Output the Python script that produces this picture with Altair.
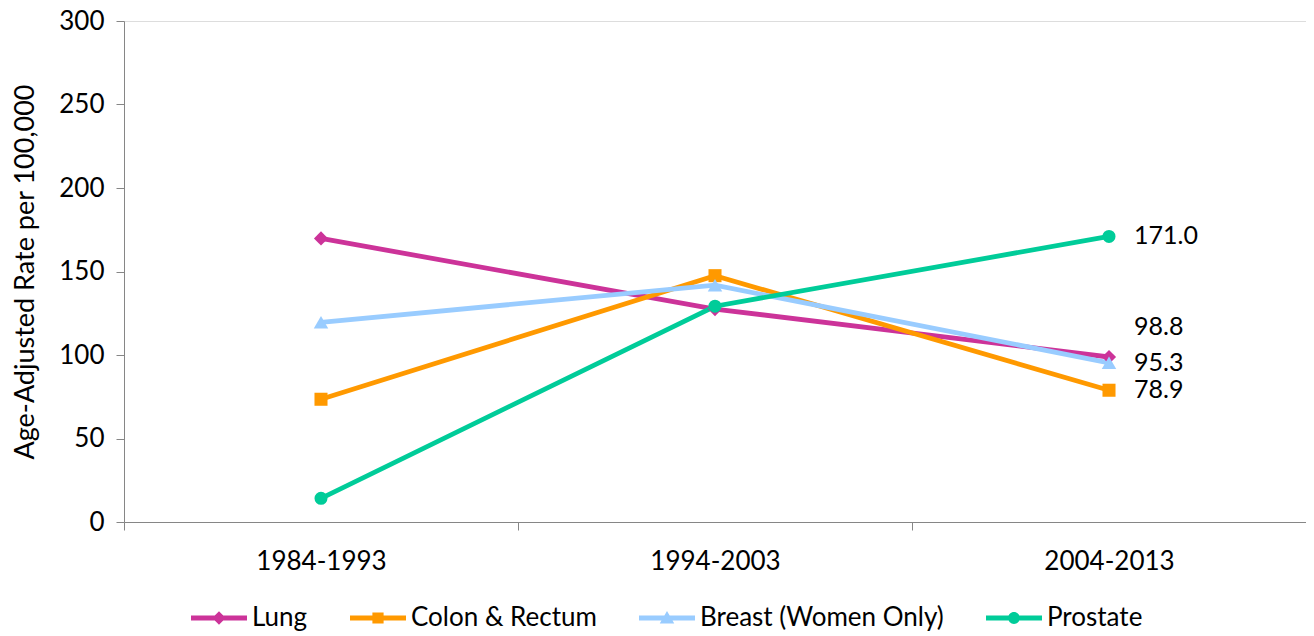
import altair as alt
import pandas as pd

periods = ["1984-1993", "1994-2003", "2004-2013"]
series = ["Lung", "Colon & Rectum", "Breast (Women Only)", "Prostate"]
lung = [169.8, 127.5, 98.8]
colon = [73.5, 147.5, 78.9]
breast = [119.6, 141.8, 95.3]
prostate = [14.2, 129.2, 171.0]
y_ticks = [0, 50, 100, 150, 200, 250, 300]

colors = ["#CC3399", "#FF9900", "#99CCFF", "#00CC99"]
marker_shapes = ["diamond", "square", "triangle-up", "circle"]
marker_sizes = [200, 170, 210, 170]

values = {"Lung": lung, "Colon & Rectum": colon,
          "Breast (Women Only)": breast, "Prostate": prostate}
rows = []
for s in series:
    for p, v in zip(periods, values[s]):
        rows.append({"Period": p, "Series": s, "Rate": v})
df = pd.DataFrame(rows)

FONT = "Lato"
FS = 26
AXIS_GRAY = "#868686"

# legend symbols: line segment + marker, as custom paths (all drawn clockwise)
bar = "M-1,-0.085H1V0.085H-1Z"
legend_paths = [
    bar + "M0,-0.24L0.24,0L0,0.24L-0.24,0Z",
    bar + "M-0.2,-0.2H0.2V0.2H-0.2Z",
    bar + "M0,-0.25L0.26,0.2H-0.26Z",
    bar + "M-0.21,0A0.21,0.21 0 1,1 0.21,0A0.21,0.21 0 1,1 -0.21,0Z",
]

x_enc = alt.X(
    "Period:N", sort=periods,
    scale=alt.Scale(type="band", domain=periods, paddingInner=0, paddingOuter=0),
    axis=alt.Axis(title=None, tickBand="extent", tickSize=8, tickColor=AXIS_GRAY,
                  domainColor=AXIS_GRAY, labelFontSize=FS, labelColor="black",
                  labelPadding=18, labelAngle=0, grid=False, labelFont=FONT),
)
y_enc = alt.Y(
    "Rate:Q",
    scale=alt.Scale(domain=[0, 300], nice=False),
    axis=alt.Axis(title="Age-Adjusted Rate per 100,000", values=y_ticks, tickSize=8,
                  tickColor=AXIS_GRAY, domainColor=AXIS_GRAY, labelFontSize=26,
                  labelColor="black", labelPadding=12, grid=False, titleFontSize=FS + 1,
                  titleFontWeight="normal", titleColor="black", titlePadding=19,
                  labelFont=FONT, titleFont=FONT),
)

layers = []
for s, c in zip(series, colors):
    ln = alt.Chart(df).transform_filter(alt.datum.Series == s).mark_line(
        strokeWidth=4.8, color=c
    ).encode(x=x_enc, y=y_enc)
    layers.append(ln)

for s, c, shp, sz in zip(series, colors, marker_shapes, marker_sizes):
    pts = alt.Chart(df).transform_filter(alt.datum.Series == s).mark_point(
        filled=True, shape=shp, size=sz, color=c, opacity=1
    ).encode(x=x_enc, y=y_enc)
    layers.append(pts)

legend_layer = alt.Chart(df).transform_filter("datum.Rate < -1000").mark_point(
    filled=True, opacity=1
).encode(
    x=x_enc, y=y_enc,
    color=alt.Color("Series:N", scale=alt.Scale(domain=series, range=colors),
                    legend=alt.Legend(title=None, orient="none", legendX=67, legendY=569,
                                      direction="horizontal", columnPadding=42,
                                      labelFontSize=FS, labelFont=FONT, labelColor="black",
                                      labelLimit=500,
                                      symbolSize=3136, labelOffset=5,
                                      symbolStrokeWidth=0, symbolOpacity=1)),
    shape=alt.Shape("Series:N", scale=alt.Scale(domain=series, range=legend_paths)),
)
layers.append(legend_layer)

last = periods[-1]
labels_main = alt.Chart(df).transform_filter(
    (alt.datum.Period == last) & (alt.datum.Series != "Lung")
).mark_text(align="left", baseline="middle", dx=25, fontSize=25, font=FONT, color="black").encode(
    x=x_enc, y=y_enc, text=alt.Text("Rate:Q", format=".1f")
)
labels_lung = alt.Chart(df).transform_filter(
    (alt.datum.Period == last) & (alt.datum.Series == "Lung")
).mark_text(align="left", baseline="middle", dx=25, dy=-30, fontSize=25, font=FONT, color="black").encode(
    x=x_enc, y=y_enc, text=alt.Text("Rate:Q", format=".1f")
)
layers += [labels_main, labels_lung]

chart = alt.layer(*layers).properties(
    width=1182, height=501,
    autosize=alt.AutoSizeParams(type="none"),
    padding={"left": 116, "top": 13, "right": 0, "bottom": 113},
).configure_view(stroke=None).configure(font=FONT)

chart.save("out.html", embed_options={"renderer": "svg", "actions": False})
